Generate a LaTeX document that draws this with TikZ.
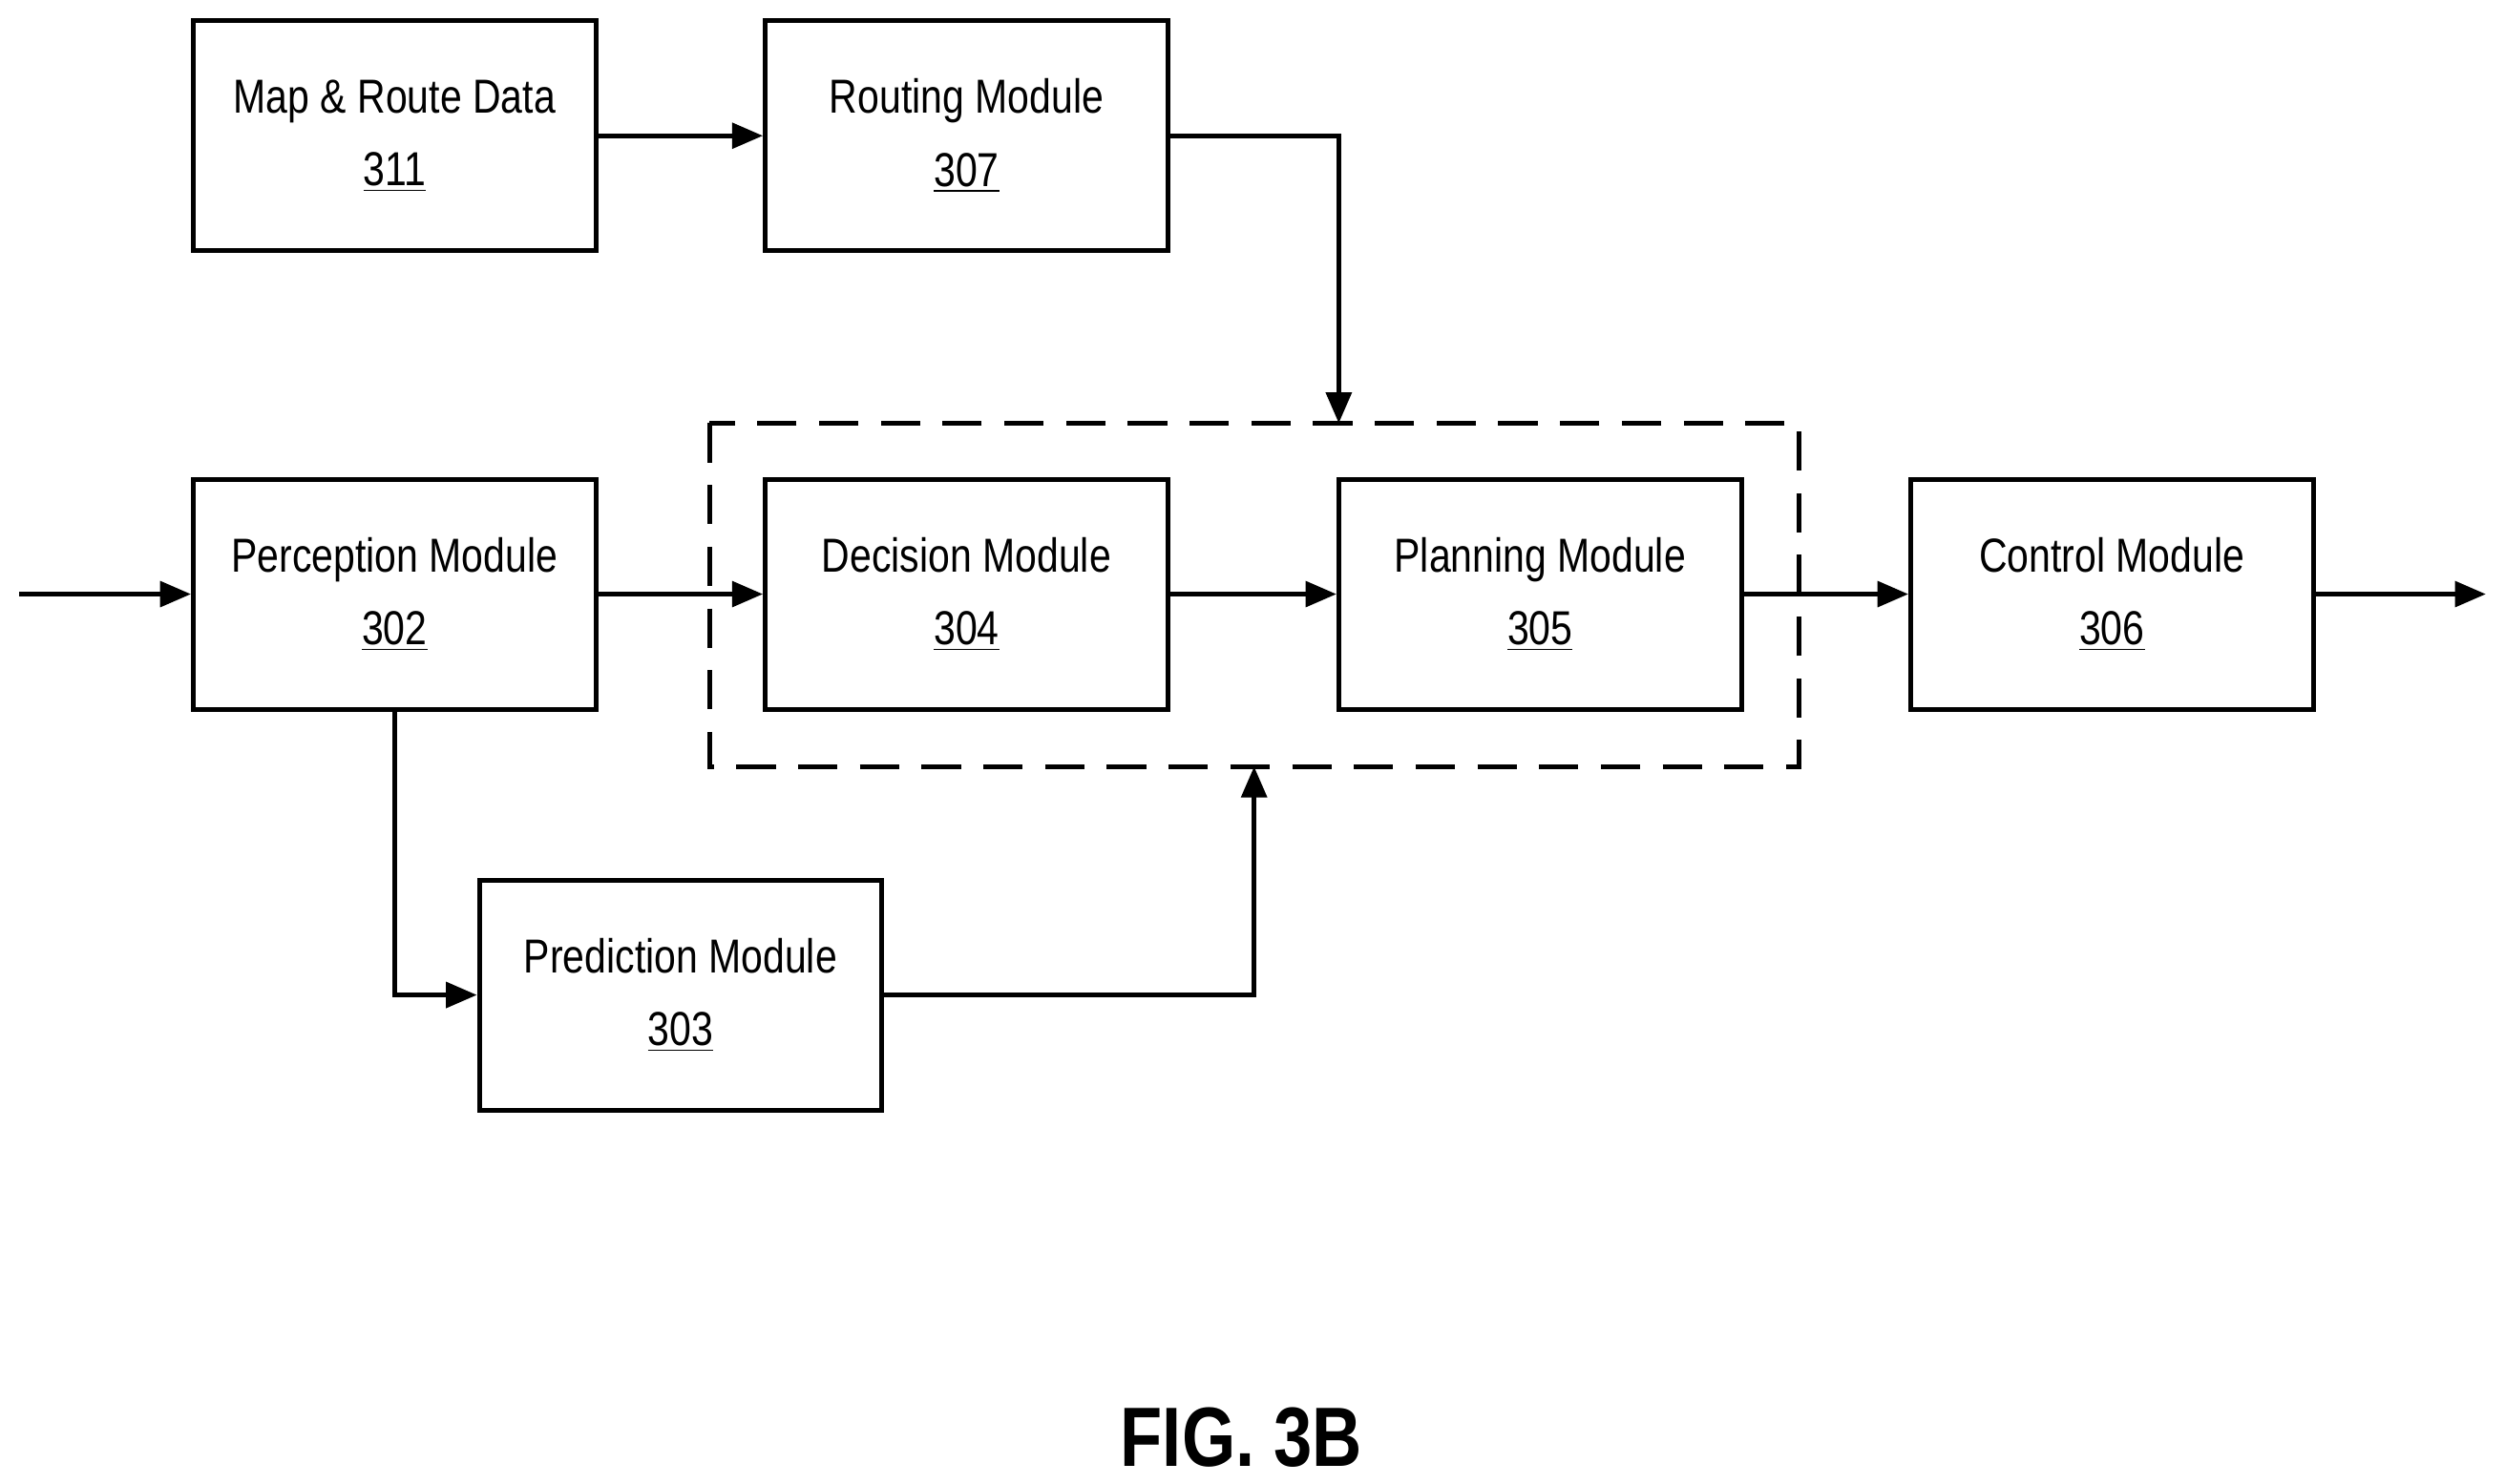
\documentclass[tikz,border=0pt]{standalone}
\usepackage{fontspec}
\setmainfont{Liberation Sans}[FakeStretch=0.82]
\usetikzlibrary{arrows.meta}
\begin{document}
\begin{tikzpicture}[x=0.02cm,y=-0.02cm,
    module/.style ={draw, line width=1.7pt, minimum width=5.04cm, minimum height=2.88cm,
      align=center, font=\fontsize{17}{26}\selectfont},
    flow/.style ={line width=1.7pt, -{Triangle[length=11pt,width=9pt]}}]
   \useasboundingbox (0,0) rectangle (1568,929);
   \node[module] (map)  at (247,85)  {Map \& Route Data\\\underline{311}};
   \node[module] (route) at (605,85) {Routing Module\\\underline{307}};
   \node[module] (perc) at (247,372) {Perception Module\\\underline{302}};
   \node[module] (dec)  at (605,372) {Decision Module\\\underline{304}};
   \node[module] (plan) at (964,372) {Planning Module\\\underline{305}};
   \node[module] (ctrl) at (1322,372) {Control Module\\\underline{306}};
   \node[module] (pred) at (426,623) {Prediction Module\\\underline{303}};
   \coordinate (in) at (12,372);
   \coordinate (out) at (1556,372);
   \coordinate (dtop) at (838,265);
   \coordinate (dbot) at (785,480);
   \node (fig) at (777,900) {\fontsize{30}{36}\selectfont\bfseries FIG. 3B};

   \draw[line width=1.7pt, dash pattern=on 14pt off 8pt] (444,265) rectangle (1126,480);
   \draw[flow] (in) -- (perc);
   \draw[flow] (map) -- (route);
   \draw[flow] (route.east) -| (dtop);
   \draw[flow] (perc) -- (dec);
   \draw[flow] (dec) -- (plan);
   \draw[flow] (plan) -- (ctrl);
   \draw[flow] (ctrl) -- (out);
   \draw[flow] (perc.south) |- (pred.west);
   \draw[flow] (pred.east) -| (dbot);
 \end{tikzpicture}
\end{document}
